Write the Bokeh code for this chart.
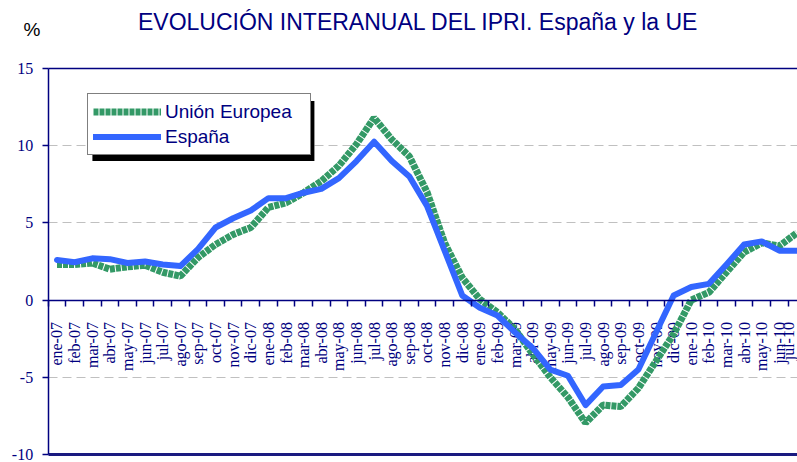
import math
from bokeh.plotting import figure
from bokeh.models import (Range1d, LinearAxis, FixedTicker, Legend, LegendItem,
                          BoxAnnotation, Label, Grid)
from bokeh.embed import file_html
from bokeh.resources import INLINE

months = ["ene-07", "feb-07", "mar-07", "abr-07", "may-07", "jun-07", "jul-07",
          "ago-07", "sep-07", "oct-07", "nov-07", "dic-07",
          "ene-08", "feb-08", "mar-08", "abr-08", "may-08", "jun-08", "jul-08",
          "ago-08", "sep-08", "oct-08", "nov-08", "dic-08",
          "ene-09", "feb-09", "mar-09", "abr-09", "may-09", "jun-09", "jul-09",
          "ago-09", "sep-09", "oct-09", "nov-09", "dic-09",
          "ene-10", "feb-10", "mar-10", "abr-10", "may-10", "jun-10", "jul-10"]

ue = [2.3, 2.3, 2.4, 2.0, 2.15, 2.25, 1.8, 1.55, 2.75, 3.6, 4.25, 4.7,
      6.0, 6.3, 6.95, 7.7, 8.7, 10.1, 11.8, 10.4, 9.3, 7.0, 3.7, 1.45,
      0.05, -0.8, -1.9, -3.5, -5.0, -6.3, -7.95, -6.8, -6.9, -5.7, -3.95, -2.2,
      0.0, 0.5, 1.8, 3.1, 3.7, 3.5, 4.35]

espana = [2.6, 2.45, 2.7, 2.65, 2.4, 2.5, 2.3, 2.2, 3.3, 4.7, 5.3, 5.8,
          6.6, 6.6, 6.95, 7.2, 7.9, 9.0, 10.25, 9.0, 8.0, 6.1, 3.2, 0.3,
          -0.5, -1.0, -2.1, -3.1, -4.5, -4.9, -6.8, -5.6, -5.5, -4.5, -2.1, 0.3,
          0.85, 1.05, 2.3, 3.6, 3.8, 3.2, 3.2]

y_ticks = [-10, -5, 0, 5, 10, 15]
y_tick_labels = ["-10", "-5", "0", "5", "10", "15"]
grid_ticks = [-5, 5, 10]
y_min, y_max = -10, 15

title_text = "EVOLUCIÓN INTERANUAL DEL IPRI. España y la UE"
unit_text = "%"
series_names = ["Unión Europea", "España"]

NAVY = "#000080"
GREEN = "#339966"
BLUE = "#3366FF"

x = list(range(len(months)))
x_lo, x_hi = x[0] - 0.5, x[-1] + 0.5

p = figure(width=797, height=462, output_backend="svg", toolbar_location=None,
           x_range=Range1d(-3.207, 42.03), y_range=Range1d(-10.52, 19.40),
           x_axis_type=None, y_axis_type=None, min_border=0)
p.background_fill_color = "white"
p.border_fill_color = "white"
p.outline_line_color = None

p.add_layout(Grid(dimension=1, ticker=FixedTicker(ticks=grid_ticks),
                  grid_line_color="#c0c0c0", grid_line_dash="9 5",
                  grid_line_width=1, cross_bounds=(x_lo, x_hi)))

# left value axis
yaxis = LinearAxis(ticker=FixedTicker(ticks=y_ticks), fixed_location=x_lo,
                   bounds=(y_min, y_max),
                   axis_line_color=NAVY, axis_line_width=1.5,
                   major_tick_line_color=NAVY, major_tick_line_width=1.5,
                   major_tick_out=6, major_tick_in=0,
                   minor_tick_line_color=None,
                   major_label_overrides={t: s for t, s in zip(y_ticks, y_tick_labels)},
                   major_label_text_font="Liberation Serif",
                   major_label_text_font_size="16px",
                   major_label_text_color=NAVY,
                   major_label_standoff=9)
p.add_layout(yaxis, "left")

# top border of plot area
top = LinearAxis(fixed_location=y_max, bounds=(x_lo, x_hi),
                 axis_line_color=NAVY, axis_line_width=1.5,
                 major_tick_line_color=None, minor_tick_line_color=None,
                 major_label_text_color=None)
p.add_layout(top, "above")

# bottom border of plot area
bottom = LinearAxis(fixed_location=y_min, bounds=(x_lo, x_hi),
                    axis_line_color="#1a1a80", axis_line_width=3,
                    major_tick_line_color=None, minor_tick_line_color=None,
                    major_label_text_color=None)
p.add_layout(bottom, "below")

# category axis crossing at zero: ticks at category boundaries
bounds_ticks = [i - 0.5 for i in x] + [x_hi]
xtick = LinearAxis(ticker=FixedTicker(ticks=bounds_ticks), fixed_location=0,
                   bounds=(x_lo, x_hi),
                   axis_line_color=NAVY, axis_line_width=1.5,
                   major_tick_line_color=NAVY, major_tick_line_width=1.5,
                   major_tick_out=6, major_tick_in=0,
                   minor_tick_line_color=None,
                   major_label_text_color=None)
p.add_layout(xtick, "below")

# month labels at category centres
xlab = LinearAxis(ticker=FixedTicker(ticks=x), fixed_location=0,
                  axis_line_color=None, major_tick_line_color=None,
                  minor_tick_line_color=None,
                  major_label_overrides={i: m for i, m in zip(x, months)},
                  major_label_orientation=math.pi / 2,
                  major_label_text_font="Liberation Serif",
                  major_label_text_font_size="16px",
                  major_label_text_color=NAVY,
                  major_label_standoff=16)
xlab.level = "underlay"
p.add_layout(xlab, "below")

g = p.line(x, ue, line_color=GREEN, line_width=7, line_dash="5 1")
b = p.line(x, espana, line_color=BLUE, line_width=6,
           line_cap="round", line_join="round")

shadow = BoxAnnotation(left=2.01, right=14.61, top=12.89, bottom=9.0,
                       fill_color="black", fill_alpha=1.0, line_color=None)
p.add_layout(shadow)

legend = Legend(items=[LegendItem(label=series_names[0], renderers=[g]),
                       LegendItem(label=series_names[1], renderers=[b])],
                location=(87, 307), orientation="vertical",
                border_line_color="black", border_line_width=1,
                background_fill_color="white", background_fill_alpha=1.0,
                label_text_font="Liberation Sans", label_text_font_size="19px",
                label_text_color=NAVY, glyph_width=68, glyph_height=25,
                label_height=25, spacing=0, padding=5, margin=0,
                label_standoff=4, label_width=140)
p.add_layout(legend)

p.add_layout(Label(x=20.52, y=18.02, text=title_text, text_align="center",
                   text_baseline="alphabetic", text_font="Liberation Sans",
                   text_font_size="23px", text_color=NAVY))
p.add_layout(Label(x=-1.9, y=17.55, text=unit_text, text_align="left",
                   text_baseline="alphabetic", text_font="Liberation Sans",
                   text_font_size="19px", text_color="black"))

open("out.html", "w").write(file_html(p, INLINE))
